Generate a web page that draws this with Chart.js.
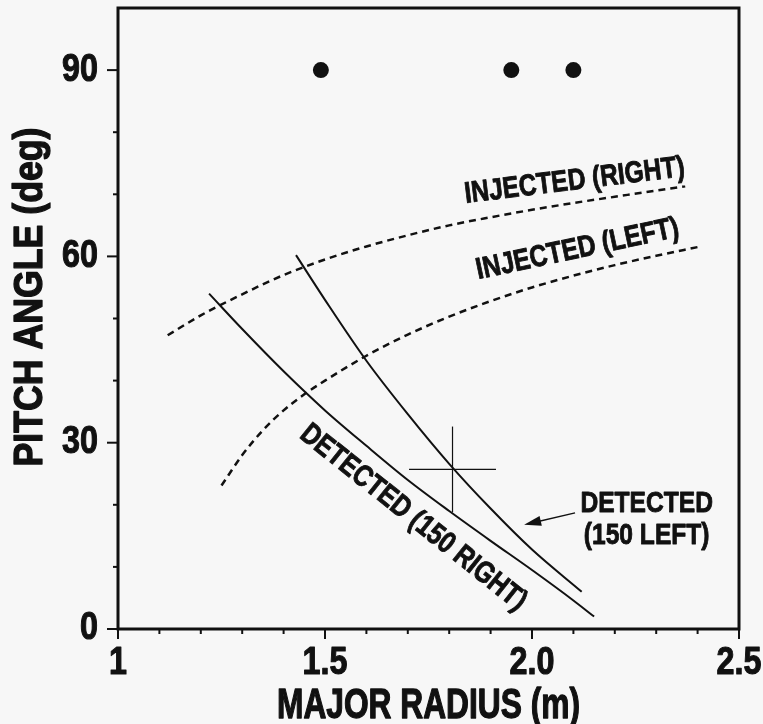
<!DOCTYPE html>
<html>
<head>
<meta charset="utf-8">
<script src="https://cdn.jsdelivr.net/npm/chart.js@4.4.1/dist/chart.umd.min.js"></script>
<style>
  html, body { margin: 0; padding: 0; background: #f7f7f7; }
  #wrap { width: 763px; height: 724px; position: relative; }
</style>
</head>
<body>
<div id="wrap"><canvas id="pitch-chart"></canvas></div>
<script>
// major radius (m) vs pitch angle (deg)
const injRightR = [1.12, 1.2, 1.3, 1.4, 1.5, 1.6, 1.7, 1.8, 1.9, 2.0, 2.1, 2.2, 2.3, 2.37];
const injRightAngle = [47.3, 50.5, 53.9, 57.0, 59.5, 61.6, 63.4, 65.0, 66.3, 67.5, 68.6, 69.6, 70.6, 71.3];
const injLeftR = [1.25, 1.3, 1.35, 1.4, 1.45, 1.5, 1.6, 1.7, 1.8, 1.9, 2.0, 2.1, 2.2, 2.3, 2.4];
const injLeftAngle = [23.1, 28.0, 32.0, 35.2, 37.8, 40.0, 44.0, 47.4, 50.3, 52.8, 55.0, 56.9, 58.6, 60.1, 61.5];
const detRightR = [1.22, 1.3, 1.4, 1.5, 1.6, 1.7, 1.8, 1.9, 2.0, 2.1, 2.15];
const detRightAngle = [54.0, 48.3, 41.5, 35.2, 29.5, 24.0, 19.0, 14.2, 9.5, 4.6, 2.0];
const detLeftR = [1.43, 1.5, 1.6, 1.7, 1.8, 1.9, 2.0, 2.12];
const detLeftAngle = [60.2, 53.0, 43.2, 34.6, 26.6, 19.4, 12.8, 6.0];
const dotR = [1.49, 1.95, 2.10];
const dotAngle = [90, 90, 90];
// measured point with its error bars
const crossR = 1.808, crossAngle = 25.7, crossErrR = 0.105, crossErrAngle = 6.9;
// arrow pointing at the DETECTED (150 LEFT) curve
const arrowFrom = [2.104, 18.7], arrowTo = [1.981, 16.8];

const xTickLabels = { 10: '1', 15: '1.5', 20: '2.0', 25: '2.5' };
const yTickLabels = [0, 30, 60, 90];

const INK = '#111';
// no condensed Helvetica here, so Liberation Sans bold squeezed sideways
const FONT = '"Liberation Sans", Arimo, Arial, sans-serif';

const toPoints = (xs, ys) => xs.map((v, i) => ({ x: v, y: ys[i] }));

// text written on the plot, anchored in data units
const notes = [
  { text: 'INJECTED (RIGHT)', r: 2.103, a: 72.1, rot: -7 },
  { text: 'INJECTED (LEFT)', r: 2.110, a: 61.1, rot: -12 },
  { text: 'DETECTED (150 RIGHT)', r: 1.713, a: 17.9, rot: 38.5 },
  { text: 'DETECTED', r: 2.277, a: 20.2, rot: 0 },
  { text: '(150 LEFT)', r: 2.277, a: 15.0, rot: 0 }
];

const curve = (xs, ys, dashed) => ({
  data: toPoints(xs, ys),
  showLine: true,
  pointRadius: 0,
  borderColor: INK,
  borderWidth: dashed ? 2.5 : 2,
  borderDash: dashed ? [7, 5] : [],
  cubicInterpolationMode: 'monotone'
});

// squeezed heavy text; width either a fixed squeeze or fitted to a pixel width
function squeezeText(ctx, text, px, py, size, opts) {
  const o = Object.assign({ rot: 0, sx: 0.82, fit: 0, align: 'center', baseline: 'middle', weight: 1.1 }, opts);
  ctx.save();
  ctx.font = 'bold ' + size + 'px ' + FONT;
  ctx.textAlign = o.align;
  ctx.textBaseline = o.baseline;
  ctx.translate(px, py);
  ctx.rotate(o.rot * Math.PI / 180);
  const sx = o.fit ? o.fit / ctx.measureText(text).width : o.sx;
  ctx.scale(sx, 1);
  ctx.lineJoin = 'round';
  ctx.lineWidth = o.weight;
  ctx.fillText(text, 0, 0);
  ctx.strokeText(text, 0, 0);
  ctx.restore();
}

const frameAndNotes = {
  id: 'frameAndNotes',
  afterDatasetsDraw(chart) {
    const { ctx, chartArea: a, scales: { x, y } } = chart;
    ctx.save();
    ctx.strokeStyle = INK;
    ctx.fillStyle = INK;

    // box round the plot
    ctx.lineWidth = 3;
    ctx.strokeRect(a.left, a.top, a.right - a.left, a.bottom - a.top);

    // outside tick marks, long and labelled at the main values
    x.ticks.forEach(t => {
      const px = x.getPixelForValue(t.value);
      const label = xTickLabels[Math.round(t.value * 10)];
      ctx.lineWidth = 2;
      ctx.beginPath(); ctx.moveTo(px, a.bottom); ctx.lineTo(px, a.bottom + (label ? 10 : 5)); ctx.stroke();
      if (label) squeezeText(ctx, label, px, a.bottom + 45, 38, { sx: 0.85, baseline: 'alphabetic' });
    });
    y.ticks.forEach(t => {
      if (t.value >= 100) return;
      const py = y.getPixelForValue(t.value);
      const major = yTickLabels.includes(t.value);
      ctx.lineWidth = 2;
      ctx.beginPath(); ctx.moveTo(a.left, py); ctx.lineTo(a.left - (major ? 11 : 5), py); ctx.stroke();
      if (major) squeezeText(ctx, String(t.value), a.left - 20, py, 38, { sx: 0.85, align: 'right' });
    });

    // labels on the curves
    notes.forEach(n => {
      squeezeText(ctx, n.text, x.getPixelForValue(n.r), y.getPixelForValue(n.a), 30, { rot: n.rot, weight: 0.9 });
    });

    // arrow
    const x0 = x.getPixelForValue(arrowFrom[0]), y0 = y.getPixelForValue(arrowFrom[1]);
    const x1 = x.getPixelForValue(arrowTo[0]), y1 = y.getPixelForValue(arrowTo[1]);
    const ang = Math.atan2(y1 - y0, x1 - x0);
    ctx.lineWidth = 1.5;
    ctx.beginPath(); ctx.moveTo(x0, y0); ctx.lineTo(x1 - 10 * Math.cos(ang), y1 - 10 * Math.sin(ang)); ctx.stroke();
    ctx.save();
    ctx.translate(x1, y1);
    ctx.rotate(ang);
    ctx.beginPath(); ctx.moveTo(0, 0); ctx.lineTo(-17, -5); ctx.lineTo(-17, 5); ctx.closePath(); ctx.fill();
    ctx.restore();

    // axis titles
    squeezeText(ctx, 'MAJOR RADIUS (m)', (a.left + a.right) / 2, a.bottom + 89, 42,
      { fit: 303, baseline: 'alphabetic', weight: 1.3 });
    squeezeText(ctx, 'PITCH ANGLE (deg)', 42, a.top + 289, 40,
      { fit: 339, rot: -90, baseline: 'alphabetic', weight: 1.3 });

    ctx.restore();
  }
};

new Chart(document.getElementById('pitch-chart'), {
  type: 'scatter',
  data: {
    datasets: [
      curve(injRightR, injRightAngle, true),
      curve(injLeftR, injLeftAngle, true),
      curve(detRightR, detRightAngle, false),
      curve(detLeftR, detLeftAngle, false),
      {
        data: toPoints(dotR, dotAngle),
        pointRadius: 8,
        pointBackgroundColor: INK,
        pointBorderWidth: 0
      },
      {
        data: [{ x: crossR - crossErrR, y: crossAngle }, { x: crossR + crossErrR, y: crossAngle }],
        showLine: true, pointRadius: 0, borderColor: INK, borderWidth: 1.2
      },
      {
        data: [{ x: crossR, y: crossAngle - crossErrAngle }, { x: crossR, y: crossAngle + crossErrAngle }],
        showLine: true, pointRadius: 0, borderColor: INK, borderWidth: 1.2
      }
    ]
  },
  options: {
    responsive: true,
    maintainAspectRatio: false,
    animation: false,
    layout: { padding: { top: 8, right: 24, left: 0, bottom: 0 } },
    plugins: { legend: { display: false }, tooltip: { enabled: false } },
    scales: {
      x: {
        type: 'linear', min: 1, max: 2.5,
        afterFit: s => { s.height = 95; s.paddingLeft = 0; s.paddingRight = 0; },
        grid: { display: false, drawTicks: false },
        border: { display: false },
        ticks: { display: false, stepSize: 0.1, autoSkip: false }
      },
      y: {
        type: 'linear', min: 0, max: 100,
        afterFit: s => { s.width = 118; s.paddingTop = 0; s.paddingBottom = 0; },
        grid: { display: false, drawTicks: false },
        border: { display: false },
        ticks: { display: false, stepSize: 10, autoSkip: false }
      }
    }
  },
  plugins: [frameAndNotes]
});
</script>
</body>
</html>
